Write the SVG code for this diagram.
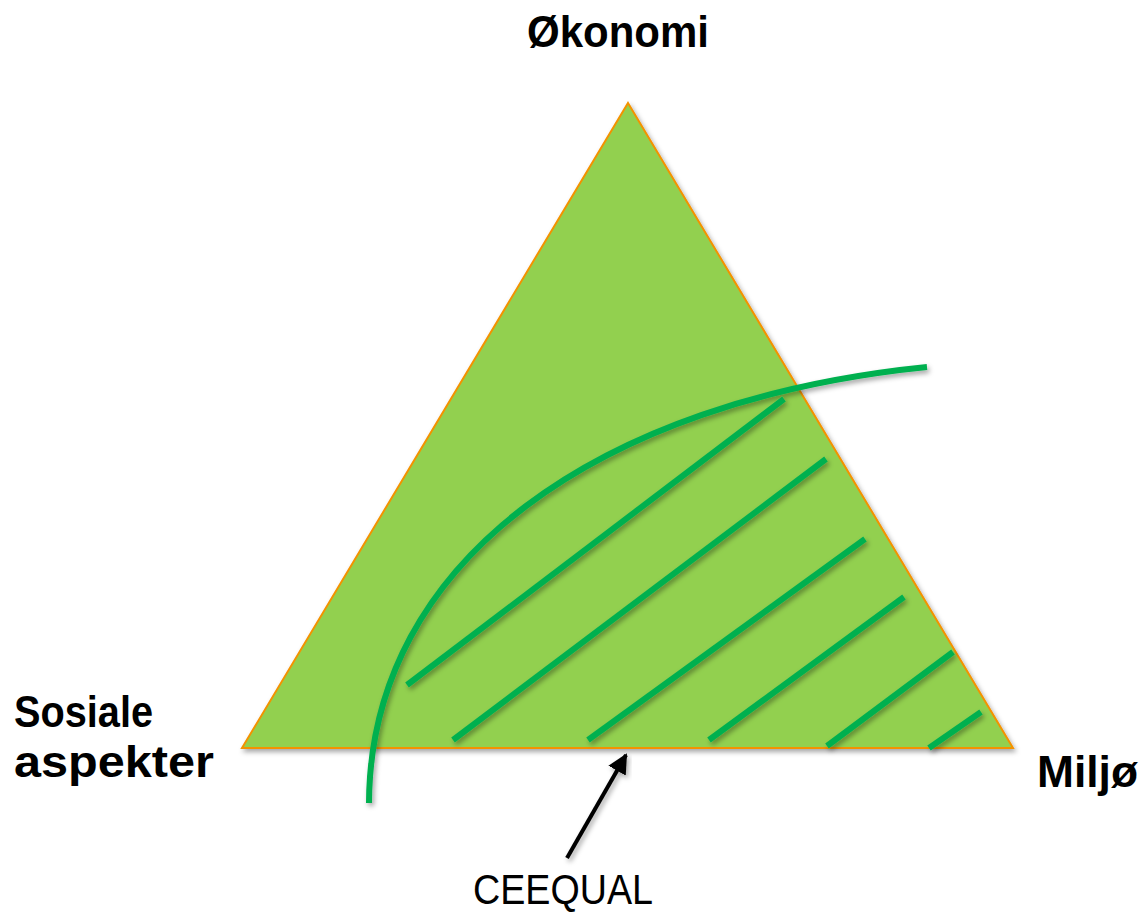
<svg xmlns="http://www.w3.org/2000/svg" width="1143" height="912" viewBox="0 0 1143 912">
<defs>
<style>
.lbl{font-family:"Liberation Sans",Arial,sans-serif;font-size:44px;font-weight:bold;fill:#000}
.reg{font-family:"Liberation Sans",Arial,sans-serif;font-size:42px;fill:#000}
.hatch{stroke:#00B050;stroke-width:6;fill:none;stroke-linecap:butt}
</style>
<filter id="sh" x="-10%" y="-10%" width="120%" height="120%">
<feDropShadow dx="2" dy="3" stdDeviation="2.5" flood-color="#000" flood-opacity="0.35"/>
</filter>
<marker id="ah" markerWidth="5" markerHeight="5" refX="4.5" refY="2.5" orient="auto" markerUnits="strokeWidth">
<path d="M0,0 L5,2.5 L0,5 Z" fill="#000"/>
</marker>
</defs>
<rect width="1143" height="912" fill="#fff"/>
<g id="triangle">
<polygon points="628,103 1013,748 242,748" fill="#92D050" stroke="#F39200" stroke-width="2" stroke-linejoin="miter" filter="url(#sh)"/>
</g>
<g id="connectors">
<g filter="url(#sh)">
<path class="hatch" d="M369,803 C370,560 600,400 927,367"/>
<line class="hatch" x1="407" y1="685" x2="784" y2="399"/>
<line class="hatch" x1="453" y1="740" x2="826" y2="459"/>
<line class="hatch" x1="588" y1="740" x2="865" y2="539"/>
<line class="hatch" x1="709" y1="740" x2="904" y2="597"/>
<line class="hatch" x1="827" y1="746" x2="953" y2="652"/>
<line class="hatch" x1="929" y1="748" x2="981" y2="712"/>
</g>
<line id="arrow" x1="567" y1="858" x2="626" y2="755" stroke="#000" stroke-width="4" marker-end="url(#ah)" filter="url(#sh)"/>
</g>
<g id="label-okonomi"><text class="lbl" x="527" y="47" textLength="182" lengthAdjust="spacingAndGlyphs">Økonomi</text></g>
<g id="label-sosiale"><text class="lbl" x="14" y="727" textLength="139" lengthAdjust="spacingAndGlyphs">Sosiale</text>
<text class="lbl" x="14" y="777" textLength="200" lengthAdjust="spacingAndGlyphs">aspekter</text></g>
<g id="label-miljo"><text class="lbl" x="1037" y="787" textLength="101" lengthAdjust="spacingAndGlyphs">Miljø</text></g>
<g id="label-ceequal"><text class="reg" x="473" y="904" textLength="180" lengthAdjust="spacingAndGlyphs">CEEQUAL</text></g>
</svg>
